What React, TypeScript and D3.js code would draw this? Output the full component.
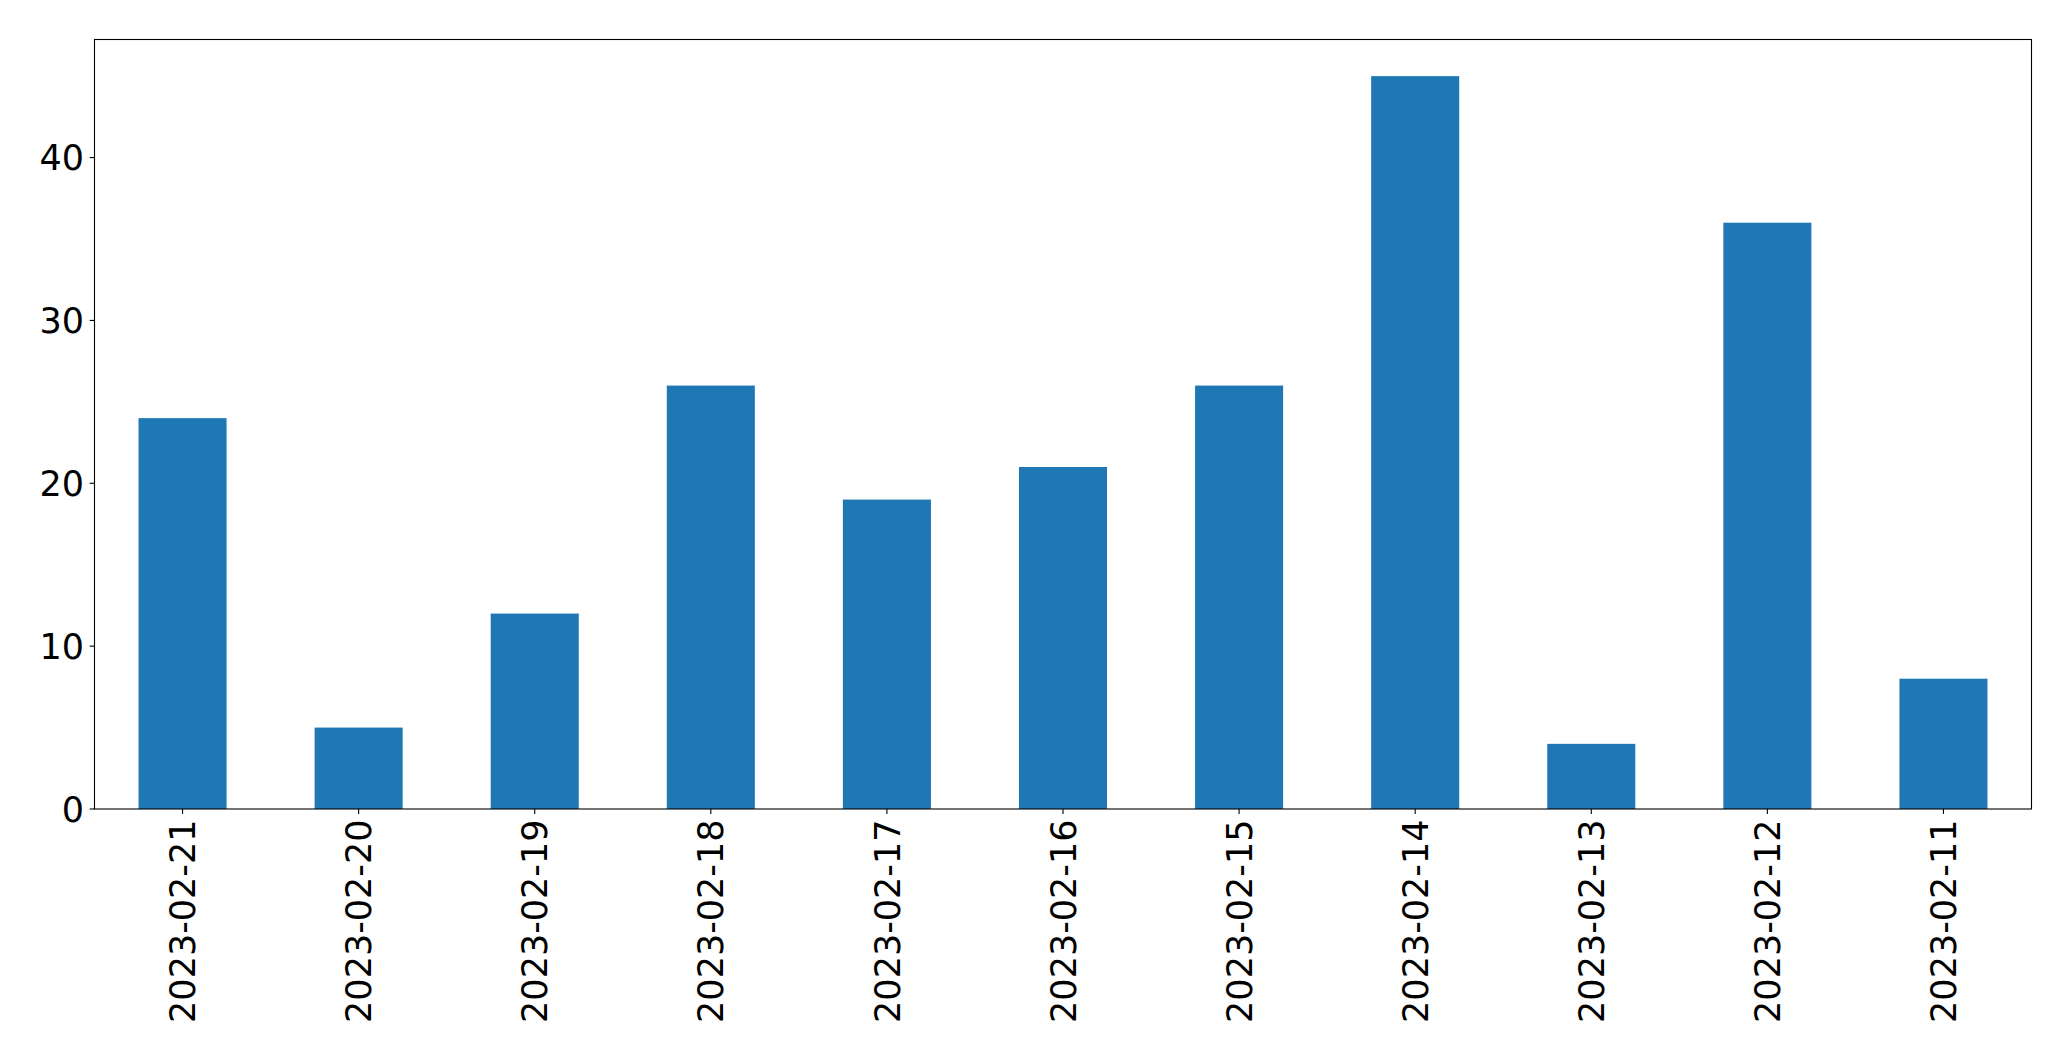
import React from "react";
import * as d3 from "d3";

const categories = [
  "2023-02-21",
  "2023-02-20",
  "2023-02-19",
  "2023-02-18",
  "2023-02-17",
  "2023-02-16",
  "2023-02-15",
  "2023-02-14",
  "2023-02-13",
  "2023-02-12",
  "2023-02-11",
];
const values = [24, 5, 12, 26, 19, 21, 26, 45, 4, 36, 8];
const yTicks = [0, 10, 20, 30, 40];

const W = 2071;
const H = 1061;
const margin = { left: 94.5, right: 2031.5, top: 39.5, bottom: 809 };
const fontSize = 35;
const font = "'DejaVu Sans', sans-serif";

const App: React.FC = () => {
  const x = d3
    .scaleBand<string>()
    .domain(categories)
    .range([margin.left, margin.right])
    .paddingInner(0.5)
    .paddingOuter(0.25);
  const yMax = (d3.max(values) || 0) * 1.05;
  const y = d3
    .scaleLinear()
    .domain([0, yMax])
    .range([margin.bottom, margin.top]);

  return (
    <svg
      width={W}
      height={H}
      style={{ position: "absolute", left: 0, top: 0, display: "block", background: "#fff" }}
    >
      {categories.map((c, i) => (
        <rect
          key={c}
          x={x(c)}
          y={y(values[i])}
          width={x.bandwidth()}
          height={y(0) - y(values[i])}
          fill="#1f77b4"
        />
      ))}
      <rect
        x={margin.left}
        y={margin.top}
        width={margin.right - margin.left}
        height={margin.bottom - margin.top}
        fill="none"
        stroke="#000"
        strokeWidth={1.1}
      />
      {yTicks.map((t) => (
        <g key={t}>
          <line
            x1={margin.left - 4.9}
            x2={margin.left}
            y1={y(t)}
            y2={y(t)}
            stroke="#000"
            strokeWidth={1.1}
          />
          <text
            x={margin.left - 10.5}
            y={y(t)}
            dy="0.36em"
            textAnchor="end"
            fontFamily={font}
            fontSize={fontSize}
            fill="#000"
          >
            {t}
          </text>
        </g>
      ))}
      {categories.map((c) => {
        const cx = (x(c) || 0) + x.bandwidth() / 2;
        return (
          <g key={c}>
            <line
              x1={cx}
              x2={cx}
              y1={margin.bottom}
              y2={margin.bottom + 4.9}
              stroke="#000"
              strokeWidth={1.1}
            />
            <text
              transform={`translate(${cx}, ${margin.bottom + 10.5}) rotate(-90)`}
              dy="0.36em"
              textAnchor="end"
              fontFamily={font}
              fontSize={fontSize}
              fill="#000"
            >
              {c}
            </text>
          </g>
        );
      })}
    </svg>
  );
};

export default App;
